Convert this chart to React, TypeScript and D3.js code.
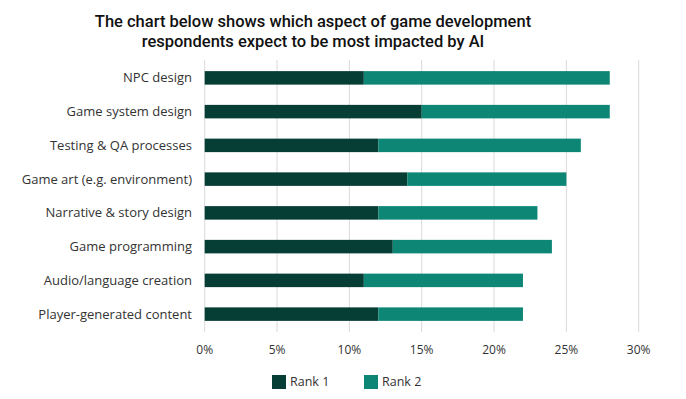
import { scaleBand, scaleLinear } from 'd3';

const width = 686;
const height = 399;

const categories = [
  'NPC design',
  'Game system design',
  'Testing & QA processes',
  'Game art (e.g. environment)',
  'Narrative & story design',
  'Game programming',
  'Audio/language creation',
  'Player-generated content',
];
const rank1 = [11, 15, 12, 14, 12, 13, 11, 12];
const rank2 = [17, 13, 14, 11, 11, 11, 11, 10];
const ticks = [0, 5, 10, 15, 20, 25, 30];
const seriesNames = ['Rank 1', 'Rank 2'];
const colors = ['#063d35', '#0d8676'];
const titleLines = [
  'The chart below shows which aspect of game development',
  'respondents expect to be most impacted by AI',
];

const font = "'Open Sans', sans-serif";
const textColor = '#333';

const x = scaleLinear().domain([0, 30]).range([204.7, 638.7]);
const y = scaleBand<string>()
  .domain(categories)
  .range([61, 331])
  .paddingInner(0.6)
  .paddingOuter(0.3);

const App = () => {
  return (
    <svg
      width={width}
      height={height}
      style={{ position: 'absolute', left: 0, top: 0, background: '#fff' }}
      fontFamily={font}
    >
      {/* title; Roboto has a tighter line box so the two lines don't collide */}
      {titleLines.map((l, i) => (
        <text
          key={i}
          x={313}
          y={27 + i * 19.5}
          textAnchor="middle"
          fontFamily="Roboto, sans-serif"
          fontSize={16.5}
          fontWeight={500}
          fill="#111"
        >
          {l}
        </text>
      ))}

      {/* grid */}
      {ticks.map((t) => (
        <line key={t} x1={x(t)} x2={x(t)} y1={60} y2={332} stroke="#d9d9d9" strokeWidth={1} />
      ))}

      {/* bars */}
      {categories.map((c, i) => (
        <g key={c}>
          <rect x={x(0)} y={y(c)} width={x(rank1[i]) - x(0)} height={y.bandwidth()} fill={colors[0]} />
          <rect
            x={x(rank1[i])}
            y={y(c)}
            width={x(rank1[i] + rank2[i]) - x(rank1[i])}
            height={y.bandwidth()}
            fill={colors[1]}
          />
          <text
            x={192}
            y={(y(c) ?? 0) + y.bandwidth() / 2}
            dy="0.35em"
            textAnchor="end"
            fontSize={13}
            fill={textColor}
          >
            {c}
          </text>
        </g>
      ))}

      {/* x tick labels */}
      {ticks.map((t) => (
        <text key={t} x={x(t)} y={350} dy="0.35em" textAnchor="middle" fontSize={12} fill={textColor}>
          {t}%
        </text>
      ))}

      {/* legend */}
      {seriesNames.map((s, i) => (
        <g key={s} transform={`translate(${272 + i * 92},375)`}>
          <rect width={14} height={14} fill={colors[i]} />
          <text x={18} y={7} dy="0.35em" fontSize={12.5} fill={textColor}>
            {s}
          </text>
        </g>
      ))}
    </svg>
  );
};

export default App;
